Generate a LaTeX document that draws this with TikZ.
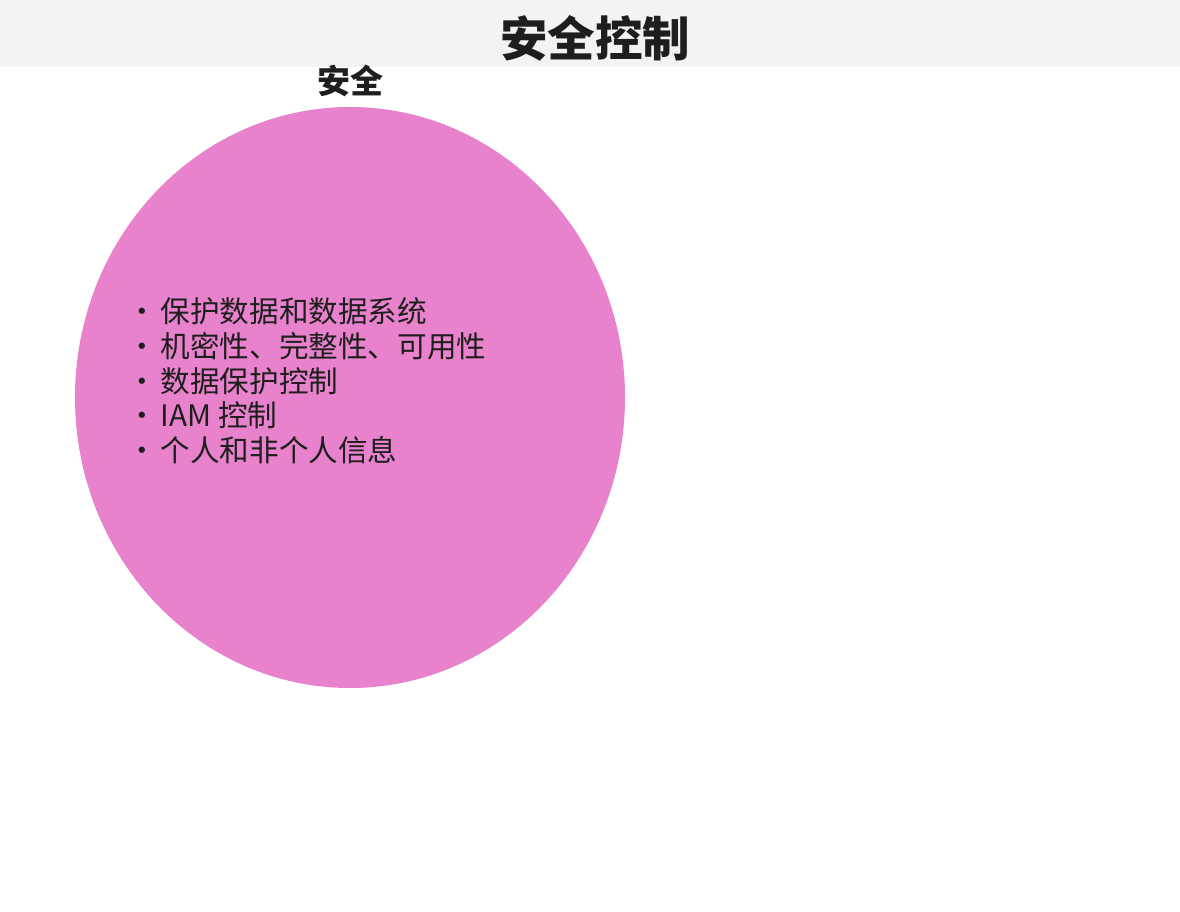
\documentclass[tikz,border=0pt]{standalone}
\usepackage{fontspec}
\setmainfont{Noto Sans CJK SC}
\definecolor{bandgray}{HTML}{F2F3F5}
\definecolor{venpink}{HTML}{E882CC}
\definecolor{ink}{HTML}{1E1E1E}
\tikzset{
  titletext/.style={font=\fontsize{47.5}{52}\selectfont\bfseries, text=ink, inner sep=0pt},
  labeltext/.style={font=\fontsize{33}{38}\selectfont\bfseries, text=ink, inner sep=0pt},
  itemtext/.style={font=\fontsize{29.6}{34.7}\selectfont, text=ink, inner sep=0pt, anchor=west, align=left},
}
\begin{document}
\begin{tikzpicture}[x=1pt,y=-1pt]
\useasboundingbox (0,0) rectangle (1180,912);
\fill[white] (0,0) rectangle (1180,912);
\fill[bandgray] (0,0) rectangle (1180,67);
\node[titletext] (title) at (595,38) {安全控制};
\node[labeltext] (lab) at (350,81) {安全};
\fill[venpink] (350,397.5) ellipse [x radius=275, y radius=290.5];
\node[itemtext] (items) at (127,381) {•\hspace{4pt}保护数据和数据系统\\
•\hspace{4pt}机密性、完整性、可用性\\
•\hspace{4pt}数据保护控制\\
•\hspace{4pt}IAM 控制\\
•\hspace{4pt}个人和非个人信息};
\end{tikzpicture}
\end{document}
